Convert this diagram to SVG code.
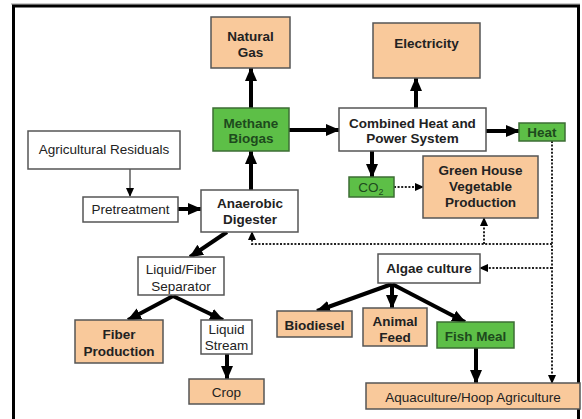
<svg xmlns="http://www.w3.org/2000/svg" width="582" height="419" viewBox="0 0 582 419">
<style>
.bx{fill:#fff;stroke:#555;stroke-width:1.5}
.pc{fill:#F9C99B;stroke:#555;stroke-width:1.5}
.gr{fill:#5DBF47;stroke:#3d6e34;stroke-width:1.5}
text{font-family:"Liberation Sans",Arial,sans-serif;font-size:13.5px;text-anchor:middle;fill:#222}
.b{font-weight:bold}
.g{fill:#1d4a1d;font-weight:bold}
.th{stroke:#000;stroke-width:4;fill:none}
.tn{stroke:#333;stroke-width:1.2;fill:none}
.dt{stroke:#222;stroke-width:2;fill:none;stroke-dasharray:2 1.6}
</style>
<defs>
<marker id="ah" markerUnits="userSpaceOnUse" markerWidth="14" markerHeight="14" viewBox="0 0 14 14" refX="13" refY="7" orient="auto"><path d="M0,1 L14,7 L0,13 Z" fill="#000"/></marker>
<marker id="as" markerUnits="userSpaceOnUse" markerWidth="9" markerHeight="9" viewBox="0 0 9 9" refX="8" refY="4.5" orient="auto"><path d="M0,0.5 L9,4.5 L0,8.5 Z" fill="#000"/></marker>
</defs>
<rect x="0" y="0" width="582" height="419" fill="#fff"/>
<line x1="11" y1="4" x2="580" y2="4" stroke="#999" stroke-width="1"/>
<rect x="13.5" y="6" width="565" height="430" fill="none" stroke="#000" stroke-width="3"/>

<g id="connectors">
<line class="tn" x1="130" y1="169" x2="130" y2="196" marker-end="url(#as)"/>
<line class="th" x1="178" y1="209" x2="201" y2="209" marker-end="url(#ah)"/>
<line class="th" x1="251" y1="190" x2="251" y2="151" marker-end="url(#ah)"/>
<line class="th" x1="251" y1="108" x2="251" y2="68" marker-end="url(#ah)"/>
<line class="th" x1="289" y1="130" x2="339" y2="130" marker-end="url(#ah)"/>
<line class="th" x1="416" y1="108" x2="416" y2="78" marker-end="url(#ah)"/>
<line class="th" x1="486" y1="131" x2="519" y2="131" marker-end="url(#ah)"/>
<line class="th" x1="372" y1="151" x2="372" y2="177" marker-end="url(#ah)"/>
<line class="dt" x1="394" y1="187" x2="423" y2="187" marker-end="url(#as)"/>
<line class="dt" x1="552" y1="141" x2="552" y2="383" marker-end="url(#as)"/>
<polyline class="dt" points="552,244 252,244 252,232" marker-end="url(#as)"/>
<line class="dt" x1="484" y1="244" x2="484" y2="218" marker-end="url(#as)"/>
<line class="dt" x1="552" y1="268" x2="480" y2="268" marker-end="url(#as)"/>
<line class="th" x1="227" y1="232" x2="190" y2="257" marker-end="url(#ah)"/>
<line class="th" x1="173" y1="296" x2="128" y2="320" marker-end="url(#ah)"/>
<line class="th" x1="173" y1="296" x2="223" y2="320" marker-end="url(#ah)"/>
<line class="th" x1="227" y1="354" x2="227" y2="379" marker-end="url(#ah)"/>
<line class="th" x1="392" y1="284" x2="317" y2="311" marker-end="url(#ah)"/>
<line class="th" x1="392" y1="284" x2="392" y2="308" marker-end="url(#ah)"/>
<line class="th" x1="392" y1="284" x2="465" y2="322" marker-end="url(#ah)"/>
<line class="th" x1="476" y1="348" x2="476" y2="383" marker-end="url(#ah)"/>
</g>

<g id="natural-gas"><rect class="pc" x="211" y="17" width="79" height="51"/><text class="b" x="250.5" y="41">Natural</text><text class="b" x="250.5" y="57">Gas</text></g>
<g id="methane-biogas"><rect class="gr" x="213" y="108" width="76" height="43"/><text class="g" x="251" y="128">Methane</text><text class="g" x="251" y="143">Biogas</text></g>
<g id="agricultural-residuals"><rect class="bx" x="28" y="131" width="152" height="38"/><text x="104" y="154">Agricultural Residuals</text></g>
<g id="pretreatment"><rect class="bx" x="83" y="197" width="95" height="25"/><text x="130.5" y="214">Pretreatment</text></g>
<g id="anaerobic-digester"><rect class="bx" x="201" y="190" width="97" height="42"/><text class="b" x="250" y="208">Anaerobic</text><text class="b" x="250" y="224">Digester</text></g>
<g id="electricity"><rect class="pc" x="373" y="23" width="107" height="55"/><text class="b" x="426.5" y="48">Electricity</text></g>
<g id="chp"><rect class="bx" x="339" y="108" width="147" height="43"/><text class="b" x="412.5" y="128">Combined Heat and</text><text class="b" x="412.5" y="143">Power System</text></g>
<g id="heat"><rect class="gr" x="519" y="123" width="46" height="18"/><text class="g" x="542" y="137">Heat</text></g>
<g id="co2"><rect class="gr" x="349" y="177" width="45" height="20"/><text class="g" x="371" y="192" style="font-weight:normal">CO<tspan font-size="9" dy="3">2</tspan></text></g>
<g id="green-house"><rect class="pc" x="423" y="156" width="115" height="62"/><text class="b" x="480.5" y="175">Green House</text><text class="b" x="480.5" y="191">Vegetable</text><text class="b" x="480.5" y="207">Production</text></g>
<g id="separator"><rect class="bx" x="138" y="257" width="86" height="38"/><text x="181" y="274">Liquid/Fiber</text><text x="181" y="291">Separator</text></g>
<g id="fiber-production"><rect class="pc" x="75" y="320" width="88" height="43"/><text class="b" x="119" y="339">Fiber</text><text class="b" x="119" y="356">Production</text></g>
<g id="liquid-stream"><rect class="bx" x="201" y="320" width="51" height="34"/><text x="226.5" y="334">Liquid</text><text x="226.5" y="350">Stream</text></g>
<g id="crop"><rect class="pc" x="189" y="379" width="75" height="25"/><text x="226.5" y="397">Crop</text></g>
<g id="algae-culture"><rect class="bx" x="378" y="254" width="102" height="29"/><text class="b" x="429" y="273">Algae culture</text></g>
<g id="biodiesel"><rect class="pc" x="277" y="311" width="75" height="26"/><text class="b" x="314.5" y="330">Biodiesel</text></g>
<g id="animal-feed"><rect class="pc" x="363" y="308" width="64" height="38"/><text class="b" x="395" y="326">Animal</text><text class="b" x="395" y="342">Feed</text></g>
<g id="fish-meal"><rect class="gr" x="437" y="322" width="77" height="26"/><text class="g" x="475.5" y="341">Fish Meal</text></g>
<g id="aquaculture"><rect class="pc" x="366" y="383" width="214" height="26"/><text x="473" y="402">Aquaculture/Hoop Agriculture</text></g>
</svg>
